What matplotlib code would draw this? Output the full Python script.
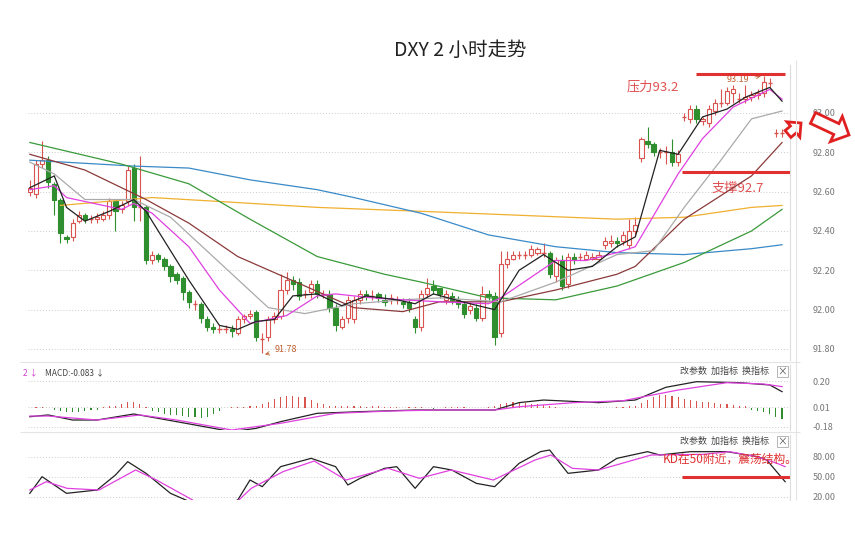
import matplotlib
matplotlib.use("Agg")
import matplotlib.pyplot as plt
from matplotlib.patches import Rectangle, FancyArrow

plt.rcParams['font.family'] = ['Noto Sans CJK SC', 'DejaVu Sans']

# candle data, DXY 2h
o = [92.60,92.59,92.74,92.76,92.64,92.56,92.37,92.37,92.45,92.48,
     92.46,92.46,92.46,92.48,92.55,92.51,92.55,92.72,92.52,92.52,
     92.25,92.28,92.26,92.22,92.18,92.16,92.09,92.03,92.03,91.95,
     91.91,91.90,91.90,91.90,91.88,91.95,91.97,91.99,91.85,91.86,
     91.95,91.97,92.10,92.15,92.14,92.08,92.09,92.13,92.08,92.08,
     92.01,91.91,91.96,91.95,92.05,92.08,92.07,92.08,92.05,92.06,
     92.05,92.04,92.04,91.95,91.91,92.08,92.12,92.11,92.05,92.07,
     92.05,92.03,92.00,92.01,91.96,92.08,92.07,91.88,92.23,92.26,
     92.28,92.28,92.28,92.29,92.29,92.29,92.17,92.25,92.13,92.27,
     92.27,92.26,92.26,92.26,92.33,92.34,92.35,92.35,92.33,92.40,
     92.77,92.86,92.84,92.80,92.80,92.80,92.75,92.98,92.97,93.02,
     92.96,92.95,93.01,93.05,93.05,93.10,93.07,93.07,93.08,93.09,
     93.10,93.15,92.90,92.90]
c = [92.62,92.74,92.76,92.65,92.56,92.39,92.36,92.44,92.48,92.46,
     92.46,92.47,92.48,92.55,92.50,92.53,92.71,92.52,92.52,92.25,
     92.28,92.26,92.22,92.17,92.15,92.09,92.04,92.03,91.96,91.91,
     91.90,91.90,91.90,91.89,91.95,91.97,91.98,91.86,91.85,91.95,
     91.97,92.10,92.15,92.13,92.07,92.08,92.13,92.08,92.08,92.01,
     91.92,91.95,92.05,92.05,92.08,92.07,92.07,92.06,92.04,92.06,
     92.05,92.03,92.01,91.91,92.08,92.11,92.10,92.08,92.08,92.05,
     92.03,91.98,92.02,91.96,92.08,92.07,91.86,92.23,92.26,92.28,
     92.28,92.28,92.31,92.31,92.29,92.18,92.25,92.12,92.27,92.25,
     92.27,92.28,92.27,92.28,92.35,92.35,92.34,92.38,92.40,92.43,
     92.87,92.84,92.80,92.80,92.80,92.75,92.79,92.98,93.02,92.97,
     92.97,93.02,93.05,93.05,93.11,93.12,93.07,93.08,93.09,93.10,
     93.16,93.15,92.90,92.90]
hi = [92.66,92.76,92.86,92.78,92.65,92.57,92.38,92.46,92.50,92.49,
      92.48,92.49,92.50,92.57,92.56,92.55,92.73,92.74,92.78,92.53,
      92.30,92.29,92.27,92.23,92.19,92.17,92.10,92.05,92.04,91.97,
      91.93,91.92,91.92,91.92,91.97,91.98,92.00,92.00,91.88,91.97,
      91.99,92.18,92.19,92.17,92.16,92.10,92.15,92.15,92.10,92.10,
      92.03,91.97,92.07,92.07,92.10,92.10,92.10,92.09,92.08,92.08,
      92.07,92.06,92.06,91.97,92.10,92.16,92.15,92.11,92.10,92.09,
      92.07,92.04,92.04,92.03,92.12,92.10,92.09,92.30,92.30,92.30,
      92.30,92.30,92.33,92.32,92.34,92.30,92.27,92.28,92.29,92.29,
      92.29,92.30,92.29,92.30,92.37,92.38,92.37,92.40,92.46,92.47,
      92.88,92.93,92.85,92.82,92.83,92.87,92.81,93.00,93.04,93.04,
      92.98,93.04,93.07,93.12,93.13,93.14,93.10,93.14,93.11,93.12,
      93.19,93.18,92.92,92.92]
lo = [92.58,92.57,92.72,92.62,92.48,92.34,92.34,92.35,92.44,92.44,
      92.44,92.44,92.45,92.46,92.40,92.49,92.53,92.45,92.45,92.23,
      92.23,92.24,92.20,92.14,92.13,92.05,92.01,92.00,91.93,91.89,
      91.88,91.88,91.88,91.86,91.87,91.93,91.95,91.84,91.78,91.84,
      91.93,91.95,92.08,92.10,92.05,92.06,92.06,92.06,92.06,91.99,
      91.89,91.90,91.93,91.93,92.03,92.05,92.05,92.04,92.02,92.03,
      92.03,92.01,91.99,91.88,91.89,92.06,92.08,92.06,92.03,92.03,
      92.01,91.96,91.98,91.94,91.94,92.05,91.82,91.86,92.21,92.25,
      92.26,92.26,92.27,92.28,92.27,92.16,92.14,92.10,92.11,92.23,
      92.25,92.25,92.25,92.24,92.31,92.32,92.32,92.33,92.31,92.38,
      92.75,92.82,92.78,92.77,92.74,92.73,92.73,92.96,92.95,92.95,
      92.94,92.93,92.99,93.03,93.04,93.05,93.05,93.05,93.06,93.07,
      93.08,93.13,92.88,92.88]

# moving averages: (bar index, price)
ma5 = [(0,92.62),(4,92.68),(6,92.52),(9,92.45),(13,92.50),(17,92.56),(19,92.50),(22,92.35),
       (26,92.15),(31,91.92),(34,91.90),(37,91.94),(40,91.95),(43,92.07),(47,92.08),(51,92.02),
       (55,92.07),(60,92.05),(63,92.03),(66,92.08),(72,92.03),(76,92.00),(80,92.20),(84,92.28),
       (88,92.20),(92,92.22),(96,92.32),(99,92.37),(103,92.81),(106,92.79),(110,92.98),
       (114,93.02),(117,93.08),(121,93.13),(123,93.06)]
ma10 = [(0,92.61),(4,92.63),(6,92.57),(9,92.55),(15,92.51),(17,92.54),(20,92.49),(26,92.32),
        (31,92.10),(36,91.93),(42,91.97),(47,92.07),(50,92.08),(56,92.06),(61,92.05),(67,92.04),
        (75,92.03),(77,92.06),(86,92.25),(91,92.25),(96,92.29),(99,92.32),(106,92.69),
        (110,92.87),(115,93.03),(121,93.12),(123,93.07)]
ma20 = [(0,92.75),(4,92.69),(9,92.56),(17,92.56),(23,92.47),(31,92.24),(39,92.01),(45,91.98),
        (53,92.03),(61,92.05),(67,92.06),(77,92.04),(86,92.14),(96,92.28),(102,92.30),
        (107,92.52),(113,92.76),(118,92.97),(123,93.01)]
ma30 = [(0,92.79),(9,92.71),(19,92.56),(26,92.44),(34,92.27),(45,92.12),(53,92.01),(61,91.99),
        (67,92.04),(77,92.04),(86,92.10),(96,92.18),(99,92.22),(107,92.46),(118,92.68),(123,92.85)]
ma60 = [(0,92.85),(15,92.74),(26,92.64),(36,92.46),(47,92.27),(58,92.18),(64,92.14),(75,92.06),
        (86,92.05),(96,92.12),(107,92.24),(118,92.40),(123,92.51)]
ma120 = [(0,92.76),(17,92.73),(26,92.72),(36,92.66),(47,92.61),(53,92.57),(64,92.49),(75,92.38),
         (86,92.32),(96,92.29),(107,92.28),(118,92.31),(123,92.33)]
ma250 = [(5,92.53),(20,92.57),(31,92.55),(47,92.52),(64,92.50),(80,92.48),(96,92.46),
         (107,92.47),(118,92.52),(123,92.53)]

# MACD
dif = [(0,-0.061),(3,-0.048),(7,-0.085),(11,-0.085),(17,-0.041),(24,-0.097),(33,-0.170),
       (37,-0.146),(41,-0.097),(47,-0.036),(54,-0.024),(63,-0.012),(72,-0.012),(76,-0.012),
       (80,0.042),(84,0.061),(93,0.042),(99,0.061),(104,0.154),(109,0.195),(116,0.188),
       (121,0.171),(123,0.122)]
dea = [(0,-0.056),(3,-0.056),(11,-0.085),(18,-0.048),(24,-0.085),(33,-0.158),(41,-0.109),
       (50,-0.036),(59,-0.019),(67,-0.012),(76,-0.012),(80,0.012),(89,0.042),(97,0.056),
       (106,0.134),(114,0.188),(120,0.178),(123,0.159)]
hist = [0.005,0.008,0.008,0.005,
        -0.01,-0.02,-0.025,-0.03,-0.025,-0.02,-0.015,-0.01,
        0.01,0.015,0.02,0.03,0.045,0.05,0.03,0.01,
        -0.02,-0.03,-0.04,-0.045,-0.05,-0.055,-0.06,-0.065,-0.07,-0.06,-0.04,-0.02,
        0.005,0.008,0.01,0.012,0.015,0.02,0.03,0.05,
        0.07,0.085,0.09,0.09,0.085,0.08,0.06,0.04,0.03,0.02,
        0.015,0.015,0.02,0.02,0.015,0.012,0.015,0.015,0.012,0.01,0.008,0.005,0.008,
        0.012,0.01,0.005,-0.005,0.005,0.01,0.012,0.01,0.008,0.005,0.003,0.005,0.008,
        0.02,0.03,0.04,0.045,0.045,0.04,0.035,0.03,0.025,0.015,0.01,0.005,0.003,
        0.003,0.005,0.005,0.003,0.003,0.005,0.005,0.008,0.01,0.015,0.02,
        0.04,0.06,0.08,0.095,0.1,0.09,0.08,0.07,0.06,0.055,0.05,0.045,0.04,0.035,
        0.03,0.025,0.02,0.015,
        -0.01,-0.02,-0.03,-0.04,-0.06,-0.08]

# KD
k_line = [(0,25),(2,50),(6,25),(11,30),(14,52.5),(16,72.5),(19,55),(23,25),(28,5),(31,5),
          (34,15),(36,45),(38,35),(41,65),(46,77.5),(50,65),(52,37.5),(54,47.5),(58,62.5),
          (60,65),(63,32.5),(66,65),(69,60),(73,40),(76,35),(80,70),(83.5,87.5),(85,90),
          (88,55),(93,60),(96,77.5),(101,87.5),(103,82.5),(108,87.5),(114,87.5),(119,80),
          (120.5,75),(123.5,42.5)]
d_line = [(0,30),(2.7,42.5),(6.1,32.5),(11.3,30),(17.3,60),(20.7,45),(27.6,10),(33.6,10),
          (36.2,32.5),(41.4,57.5),(46.5,73.5),(51.7,45),(58.6,62.5),(63.7,47.5),(68.9,60),
          (75.8,45),(82.6,75),(85.2,82.5),(88.7,62.5),(93,60),(101.6,82.5),(110.2,83.5),
          (114.4,87.5),(118.8,80),(122.2,70),(123.5,65)]

W, H = 855, 534
fig = plt.figure(figsize=(8.55, 5.34), dpi=100)


def px_axes(x0, y0, x1, y1):
    return fig.add_axes([x0 / W, 1 - y1 / H, (x1 - x0) / W, (y1 - y0) / H])


XL = (-0.3, 124.3)
RED = '#d9534f'
GRN = '#2f8f2f'
GRAY = '#777777'

ax = px_axes(28, 65, 790, 360)
ax.set_xlim(*XL)
ax.set_ylim(91.744, 93.244)
for i in range(len(o)):
    up = c[i] >= o[i]
    col = RED if up else GRN
    ax.vlines(i, lo[i], hi[i], color=col, lw=0.8, zorder=3)
    b = min(o[i], c[i])
    h = abs(c[i] - o[i])
    if h < 0.004:
        ax.hlines(b, i - 0.35, i + 0.35, color=col, lw=1, zorder=4)
    else:
        ax.add_patch(Rectangle((i - 0.35, b), 0.7, h, facecolor='white' if up else GRN,
                               edgecolor=col, lw=0.8, zorder=4))

for pts, col in [(ma250, '#f0b030'), (ma120, '#3a8ac8'), (ma60, '#3a9a3a'), (ma30, '#8b3a3a'),
                 (ma20, '#aaaaaa'), (ma10, '#e040e0'), (ma5, '#222222')]:
    ax.plot([p[0] for p in pts], [p[1] for p in pts], color=col, lw=0.9, zorder=5)

ax.hlines(93.2, 109, 123.5, color='#e03030', lw=2.2, zorder=6)
ax.hlines(92.7, 106.7, 124.3, color='#e03030', lw=2.2, zorder=6)
ax.text(97.5, 93.13, '压力93.2', color='#e05050', fontsize=9.5, ha='left', va='center')
ax.text(111.5, 92.615, '支撑92.7', color='#e05050', fontsize=9.5, ha='left', va='center')
ax.annotate('93.19', xy=(120, 93.19), xytext=(114, 93.17), fontsize=6.5, color='#c06030',
            va='center', arrowprops=dict(arrowstyle='->', color='#c06030', lw=0.6))
ax.annotate('91.78', xy=(38, 91.77), xytext=(40, 91.795), fontsize=6.5, color='#c06030',
            va='center', arrowprops=dict(arrowstyle='->', color='#c06030', lw=0.6))

ax.set_yticks([91.8, 92.0, 92.2, 92.4, 92.6, 92.8, 93.0])
ax.set_yticklabels(['91.80', '92.00', '92.20', '92.40', '92.60', '92.80', '93.00'])

# MACD panel
axm = px_axes(28, 365, 790, 430)
axm.set_xlim(*XL)
axm.set_ylim(-0.158, 0.317)
axm.bar(range(len(hist)), hist, width=0.18,
        color=[RED if v > 0 else GRN for v in hist], zorder=3)
axm.plot([p[0] for p in dif], [p[1] for p in dif], color='#222222', lw=0.9, zorder=4)
axm.plot([p[0] for p in dea], [p[1] for p in dea], color='#e040e0', lw=0.9, zorder=4)
axm.set_yticks([0.20, 0.01, -0.136])
axm.set_yticklabels(['0.20', '0.01', '-0.18'])
axm.text(-0.006, 0.88, '2 ↓', transform=axm.transAxes, color='#d040d0', fontsize=6, va='center')
axm.text(0.022, 0.88, 'MACD:-0.083 ↓', transform=axm.transAxes, color='#444444',
         fontsize=6, va='center')

# KD panel
axk = px_axes(28, 435, 790, 500)
axk.set_xlim(*XL)
axk.set_ylim(15, 112.5)
axk.plot([p[0] for p in k_line], [p[1] for p in k_line], color='#222222', lw=0.9)
axk.plot([p[0] for p in d_line], [p[1] for p in d_line], color='#e040e0', lw=0.9)
axk.hlines(50, 106.7, 124.3, color='#e03030', lw=2.2)
axk.text(103.5, 76, 'KD在50附近，震荡结构。', color='#e03030', fontsize=8.5, va='center')
axk.set_yticks([80, 50, 20])
axk.set_yticklabels(['80.00', '50.00', '20.00'])

for a in (ax, axm, axk):
    a.set_xticks([])
    a.yaxis.tick_right()
    a.tick_params(axis='y', length=0, pad=16, labelsize=6.5, labelcolor=GRAY)
    for s in ('top', 'left', 'bottom'):
        a.spines[s].set_visible(False)
    a.spines['right'].set_color('#dddddd')
    a.grid(axis='y', color='#cccccc', ls=(0, (1, 2)), lw=0.7)
    a.set_facecolor('none')

for a in (axm, axk):
    a.text(0.855, 0.9, '改参数  加指标  换指标', transform=a.transAxes, fontsize=6.5,
           color='#444444', va='center')
    a.text(0.99, 0.9, '×', transform=a.transAxes, fontsize=7, color='#555555', va='center',
           ha='center', bbox=dict(boxstyle='square,pad=0.1', fc='white', ec='#999999', lw=0.5))

# overlay in pixel units for title, separators and arrows
ov = fig.add_axes([0, 0, 1, 1], zorder=10)
ov.set_xlim(0, W)
ov.set_ylim(H, 0)
ov.axis('off')
ov.text(460, 50, 'DXY 2 小时走势', fontsize=14, ha='center', va='center', color='#222222')
ov.hlines([362, 432], 20, 800, color='#e4e4e4', lw=0.8)
ov.vlines(796, 60, 500, color='#e4e4e4', lw=0.8)
ov.add_patch(FancyArrow(788, 134, 13, -11, width=9, head_width=20, head_length=10,
                        fc='white', ec='#e02020', lw=2, length_includes_head=True))
ov.add_patch(FancyArrow(813, 118, 36, 17, width=12, head_width=28, head_length=14,
                        fc='white', ec='#e02020', lw=2, length_includes_head=True))

fig.savefig('out.png', dpi=100)
